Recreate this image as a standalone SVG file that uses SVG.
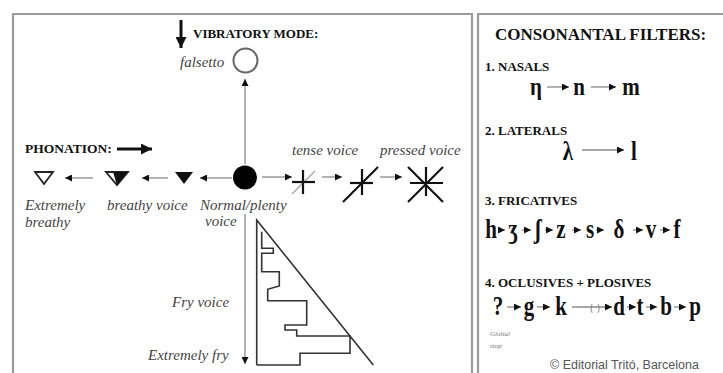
<svg xmlns="http://www.w3.org/2000/svg" width="723" height="373" viewBox="0 0 723 373">
<style>
.hd{font-family:"Liberation Serif","Times New Roman",serif;font-weight:bold;fill:#111;}
.it{font-family:"Liberation Serif","Times New Roman",serif;font-style:italic;fill:#444;font-size:15px;}
.ph{font-family:"Liberation Serif","DejaVu Serif",serif;font-weight:bold;fill:#111;font-size:21px;text-anchor:middle;}
.ln{stroke:#8a8a8a;stroke-width:1.3;fill:none;}
.dk{stroke:#111;stroke-width:2.2;fill:none;}
.fr{stroke:#333;stroke-width:1.6;fill:none;}
</style>
<defs>
<marker id="ah" viewBox="0 0 10 10" refX="10" refY="5" markerWidth="7" markerHeight="7" markerUnits="userSpaceOnUse" orient="auto"><path d="M0,0 L10,5 L0,10 z" fill="#111"/></marker>
<marker id="big" viewBox="0 0 10 10" refX="10" refY="5" markerWidth="12" markerHeight="11" markerUnits="userSpaceOnUse" orient="auto"><path d="M0,0 L10,5 L0,10 z" fill="#111"/></marker>
</defs>
<rect width="723" height="373" fill="#fff"/>
<g id="left-panel"><path d="M13,380 L13,14 L472,14 L472,380" fill="none" stroke="#9a9a9a" stroke-width="2.2"/></g>
<g id="right-panel"><path d="M478,380 L478,14 L730,14" fill="none" stroke="#9a9a9a" stroke-width="2.2"/></g>

<g id="connectors">
<line x1="181" y1="20" x2="181" y2="48" stroke="#111" stroke-width="3" marker-end="url(#big)"/>
<line x1="117" y1="149" x2="152" y2="149" stroke="#111" stroke-width="3" marker-end="url(#big)"/>
<line class="ln" x1="245" y1="164" x2="245" y2="79" marker-end="url(#ah)"/>
<line class="ln" x1="93" y1="178" x2="65" y2="178" marker-end="url(#ah)"/>
<line class="ln" x1="168" y1="178" x2="142" y2="178" marker-end="url(#ah)"/>
<line class="ln" x1="232" y1="178" x2="200" y2="178" marker-end="url(#ah)"/>
<line class="ln" x1="262" y1="177" x2="292" y2="177" marker-end="url(#ah)"/>
<line class="ln" x1="322" y1="177" x2="342" y2="177" marker-end="url(#ah)"/>
<line class="ln" x1="380" y1="177" x2="402" y2="177" marker-end="url(#ah)"/>
<line class="ln" x1="245" y1="214" x2="245" y2="364" marker-end="url(#ah)"/>
<line class="ln" x1="547" y1="87" x2="569" y2="87" marker-end="url(#ah)"/>
<line class="ln" x1="591" y1="87" x2="616" y2="87" marker-end="url(#ah)"/>
<line class="ln" x1="582" y1="150" x2="624" y2="150" marker-end="url(#ah)"/>
<line class="ln" x1="498" y1="230" x2="505" y2="230" marker-end="url(#ah)"/>
<line class="ln" x1="522" y1="230" x2="531" y2="230" marker-end="url(#ah)"/>
<line class="ln" x1="545" y1="230" x2="553" y2="230" marker-end="url(#ah)"/>
<line class="ln" x1="572" y1="230" x2="581" y2="230" marker-end="url(#ah)"/>
<line class="ln" x1="596" y1="230" x2="604" y2="230" marker-end="url(#ah)"/>
<line class="ln" x1="633" y1="230" x2="643" y2="230" marker-end="url(#ah)"/>
<line class="ln" x1="660" y1="230" x2="670" y2="230" marker-end="url(#ah)"/>
<line class="ln" x1="507" y1="307" x2="521" y2="307" marker-end="url(#ah)"/>
<line class="ln" x1="537" y1="307" x2="550" y2="307" marker-end="url(#ah)"/>
<line class="ln" x1="572" y1="307" x2="612" y2="307" marker-end="url(#ah)"/>
<line class="ln" x1="627" y1="307" x2="636" y2="307" marker-end="url(#ah)"/>
<line class="ln" x1="646" y1="307" x2="657" y2="307" marker-end="url(#ah)"/>
<line class="ln" x1="674" y1="307" x2="686" y2="307" marker-end="url(#ah)"/>
</g>

<g id="vibratory-mode"><text class="hd" x="193" y="38" font-size="13">VIBRATORY MODE:</text></g>
<g id="falsetto">
<text class="it" x="180" y="67">falsetto</text>
<circle cx="245.5" cy="60.5" r="12" fill="#fff" stroke="#666" stroke-width="2"/>
</g>
<g id="phonation"><text class="hd" x="25" y="153" font-size="13.5">PHONATION:</text></g>
<g id="extremely-breathy">
<path d="M35,172 L53,172 L44,184 z" fill="#fff" stroke="#222" stroke-width="1.8"/>
<text class="it" x="25" y="210">Extremely</text>
<text class="it" x="25" y="227">breathy</text>
</g>
<g id="breathy-voice">
<path d="M106,172 L128,172 L117,185 z" fill="#fff" stroke="#222" stroke-width="1.8"/>
<path d="M113,172 L128,172 L117,185 z" fill="#111"/>
<text class="it" x="107" y="210">breathy voice</text>
</g>
<g id="slightly-breathy"><path d="M175,172 L193,172 L184,184 z" fill="#111"/></g>
<g id="normal-voice">
<circle cx="245" cy="177.5" r="12" fill="#000"/>
<text class="it" x="200" y="210">Normal/plenty</text>
<text class="it" x="205" y="226">voice</text>
</g>
<g id="tense-voice">
<line x1="292" y1="194" x2="315" y2="171" stroke="#aaa" stroke-width="1.6"/>
<line class="dk" x1="303" y1="170" x2="303" y2="194"/>
<line class="dk" x1="292" y1="182" x2="315" y2="182"/>
<text class="it" x="292" y="155">tense voice</text>
</g>
<g id="tense2">
<line class="dk" x1="343" y1="202" x2="378" y2="167"/>
<line class="dk" x1="362" y1="169" x2="362" y2="195"/>
<line class="dk" x1="350" y1="183" x2="373" y2="183"/>
</g>
<g id="pressed-voice">
<line class="dk" x1="426" y1="167" x2="426" y2="196"/>
<line class="dk" x1="410" y1="183" x2="443" y2="183"/>
<line class="dk" x1="408" y1="167" x2="443" y2="202"/>
<line class="dk" x1="408" y1="202" x2="443" y2="167"/>
<text class="it" x="380" y="155">pressed voice</text>
</g>
<g id="fry">
<text class="it" x="172" y="307">Fry voice</text>
<text class="it" x="148" y="360">Extremely fry</text>
<polyline class="fr" points="256.7,365 256.7,220 373.3,365"/>
<polyline class="fr" points="261.7,231.7 261.7,248.3 273.3,248.3 273.3,253.3 261.7,253.3 261.7,271.7 279.3,271.7 279.3,286 267.7,289.3 267.7,300.7 306.7,300.7 306.7,325 285,325 285,330 296.7,330 296.7,336 350,336 350,353.3 300,353.3 300,365 256.7,365"/>
</g>

<g id="title"><text class="hd" x="495" y="40" font-size="17">CONSONANTAL FILTERS:</text></g>
<g id="nasals">
<text class="hd" x="485" y="71" font-size="13">1. NASALS</text>
<g transform="translate(0,95) scale(1,1.2)">
<text class="ph" x="536" y="0">η</text>
<text class="ph" x="579" y="0">n</text>
<text class="ph" x="631" y="0">m</text>
</g>
</g>
<g id="laterals">
<text class="hd" x="485" y="135" font-size="13">2. LATERALS</text>
<g transform="translate(0,160) scale(1,1.3)">
<text class="ph" x="568" y="0">λ</text>
<text class="ph" x="634" y="0">l</text>
</g>
</g>
<g id="fricatives">
<text class="hd" x="485" y="205" font-size="13">3. FRICATIVES</text>
<g transform="translate(0,238) scale(1,1.3)">
<text class="ph" x="491" y="0">h</text>
<text class="ph" x="513" y="0">ʒ</text>
<text class="ph" x="538" y="0">ʃ</text>
<text class="ph" x="561" y="0">z</text>
<text class="ph" x="590" y="0">s</text>
<text class="ph" x="619" y="0" font-weight="normal" fill="#444">δ</text>
<text class="ph" x="651" y="0">v</text>
<text class="ph" x="677" y="0">f</text>
</g>
</g>
<g id="oclusives">
<text class="hd" x="485" y="287" font-size="13">4. OCLUSIVES + PLOSIVES</text>
<g transform="translate(0,315) scale(1,1.3)">
<text class="ph" x="498" y="0">?</text>
<text class="ph" x="529" y="0">g</text>
<text class="ph" x="561" y="0">k</text>
<text class="ph" x="619" y="0">d</text>
<text class="ph" x="640" y="0">t</text>
<text class="ph" x="666" y="0">b</text>
<text class="ph" x="695" y="0">p</text>
</g>
<text x="595" y="311" font-family="Liberation Serif,serif" font-size="10" fill="#777" text-anchor="middle">{ }</text>
<text font-family="Liberation Serif,serif" font-style="italic" font-size="7" fill="#777" x="490" y="336">Glottal</text>
<text font-family="Liberation Serif,serif" font-style="italic" font-size="7" fill="#777" x="490" y="348">stop</text>
</g>
<g id="copyright"><text x="550" y="369" font-family="Liberation Sans,Arial,sans-serif" font-size="12.5" fill="#555">© Editorial Tritó, Barcelona</text></g>
</svg>
